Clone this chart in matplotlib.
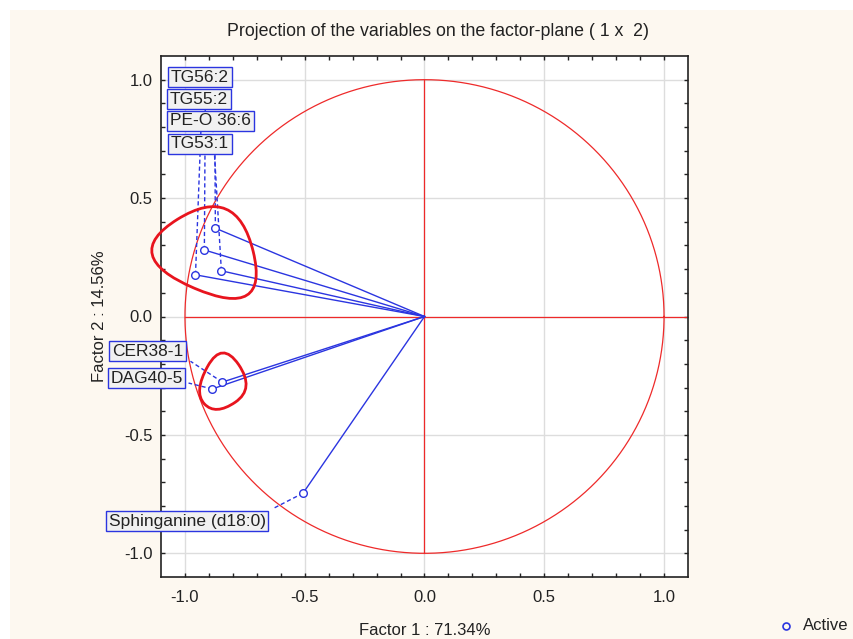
import matplotlib
matplotlib.use("Agg")
import matplotlib.pyplot as plt
import numpy as np
from matplotlib.patches import Rectangle, PathPatch
from matplotlib.path import Path
from matplotlib.lines import Line2D

plt.rcParams['font.family'] = ['Liberation Sans', 'DejaVu Sans']
plt.rcParams['axes.unicode_minus'] = False

# variable coordinates on the factor plane
names = ["TG56:2", "TG55:2", "PE-O 36:6", "TG53:1", "CER38-1", "DAG40-5", "Sphinganine (d18:0)"]
factor1 = [-0.956, -0.919, -0.848, -0.873, -0.844, -0.886, -0.507]
factor2 = [0.176, 0.281, 0.193, 0.373, -0.277, -0.306, -0.746]

# where the label boxes sit (left edge, centre) and where their dashed leader ends
label_x = [-1.058, -1.062, -1.062, -1.058, -1.306, -1.312, -1.318]
label_y = [1.010, 0.918, 0.826, 0.730, -0.147, -0.260, -0.864]
leader_x = [-0.925, -0.915, -0.885, -0.875, -0.977, -0.985, -0.636]
leader_y = [1.010, 0.918, 0.826, 0.730, -0.189, -0.281, -0.813]

# hand drawn highlight loops (corner points)
loop1 = [(-1.277, 0.256), (-0.785, 0.565), (-0.645, -0.017)]
loop2 = [(-0.845, -0.101), (-0.707, -0.305), (-0.873, -0.419), (-0.965, -0.319)]

blue = '#2b35e0'
red = '#ee2a2a'

fig = plt.figure(figsize=(8.54, 6.39), dpi=100)
fig.patch.set_facecolor('white')
fig.add_artist(Rectangle((10 / 854, 0), 1, 1 - 10 / 639, transform=fig.transFigure,
                         facecolor='#fdf8f0', edgecolor='none', zorder=-10))

ax = fig.add_axes([161 / 854, 1 - 577 / 639, 527 / 854, 521 / 639])
ax.set_facecolor('white')
ax.set_xlim(-1.1, 1.1)
ax.set_ylim(-1.1, 1.1)

ax.set_xticks([-1.0, -0.5, 0.0, 0.5, 1.0])
ax.set_yticks([-1.0, -0.5, 0.0, 0.5, 1.0])
ax.set_xticks(np.arange(-1.0, 1.05, 0.1), minor=True)
ax.set_yticks(np.arange(-1.0, 1.05, 0.1), minor=True)
ax.tick_params(which='both', direction='in', length=3, width=1, top=True, right=True,
               labelsize=12, colors='#222222')
ax.tick_params(axis='x', which='major', pad=9)
ax.tick_params(axis='y', which='major', pad=6)
ax.grid(True, which='major', color='#dddddd', linewidth=1)
ax.set_axisbelow(True)
for s in ax.spines.values():
    s.set_color('#222222')
    s.set_linewidth(1.2)

# unit circle and red cross
t = np.linspace(0, 2 * np.pi, 400)
ax.plot(np.cos(t), np.sin(t), color=red, lw=0.9, zorder=2)
ax.plot([-1, 1.1], [0, 0], color=red, lw=0.9, zorder=2)
ax.plot([0, 0], [-1, 1], color=red, lw=0.9, zorder=2)

# vectors and points
for x, y in zip(factor1, factor2):
    ax.plot([0, x], [0, y], color=blue, lw=1, zorder=3)
ax.plot(factor1, factor2, 'o', mfc='white', mec=blue, ms=5.5, mew=1, zorder=4)

# labels with dashed leaders
for i, name in enumerate(names):
    ax.plot([factor1[i], leader_x[i]], [factor2[i], leader_y[i]], color=blue, lw=1,
            ls=(0, (3, 2)), zorder=3, clip_on=False)
    ax.text(label_x[i], label_y[i], name, ha='left', va='center', fontsize=12.5,
            color='#222222', zorder=6, clip_on=False,
            bbox=dict(boxstyle='square,pad=0.15', facecolor='#f1f1f1', edgecolor=blue, lw=1))


def rounded_loop(pts):
    pts = np.array(pts)
    n = len(pts)
    mids = [(pts[i] + pts[(i + 1) % n]) / 2 for i in range(n)]
    verts = [mids[-1]]
    codes = [Path.MOVETO]
    for i in range(n):
        verts += [pts[i], mids[i]]
        codes += [Path.CURVE3, Path.CURVE3]
    return Path(verts, codes)


for lp in (loop1, loop2):
    ax.add_patch(PathPatch(rounded_loop(lp), facecolor='none', edgecolor='#e8141e',
                           lw=2, zorder=5, clip_on=False))

fig.text(438 / 854, 1 - 32 / 639, "Projection of the variables on the factor-plane ( 1 x  2)",
         ha='center', va='center', fontsize=12.8, color='#222222')
ax.set_xlabel("Factor 1 : 71.34%", fontsize=12, color='#222222')
ax.xaxis.set_label_coords(0.5, -0.088)
ax.set_ylabel("Factor 2 : 14.56%", fontsize=12, color='#222222')
ax.yaxis.set_label_coords(-0.102, 0.5)

# legend
fig.add_artist(Line2D([786 / 854], [1 - 626 / 639], marker='o', mfc='none', mec=blue,
                      ms=5, mew=1.2, ls='none', transform=fig.transFigure))
fig.text(803 / 854, 1 - 626 / 639, "Active", ha='left', va='center', fontsize=12, color='#222222')

fig.savefig("out.png", dpi=100, facecolor=fig.get_facecolor())
